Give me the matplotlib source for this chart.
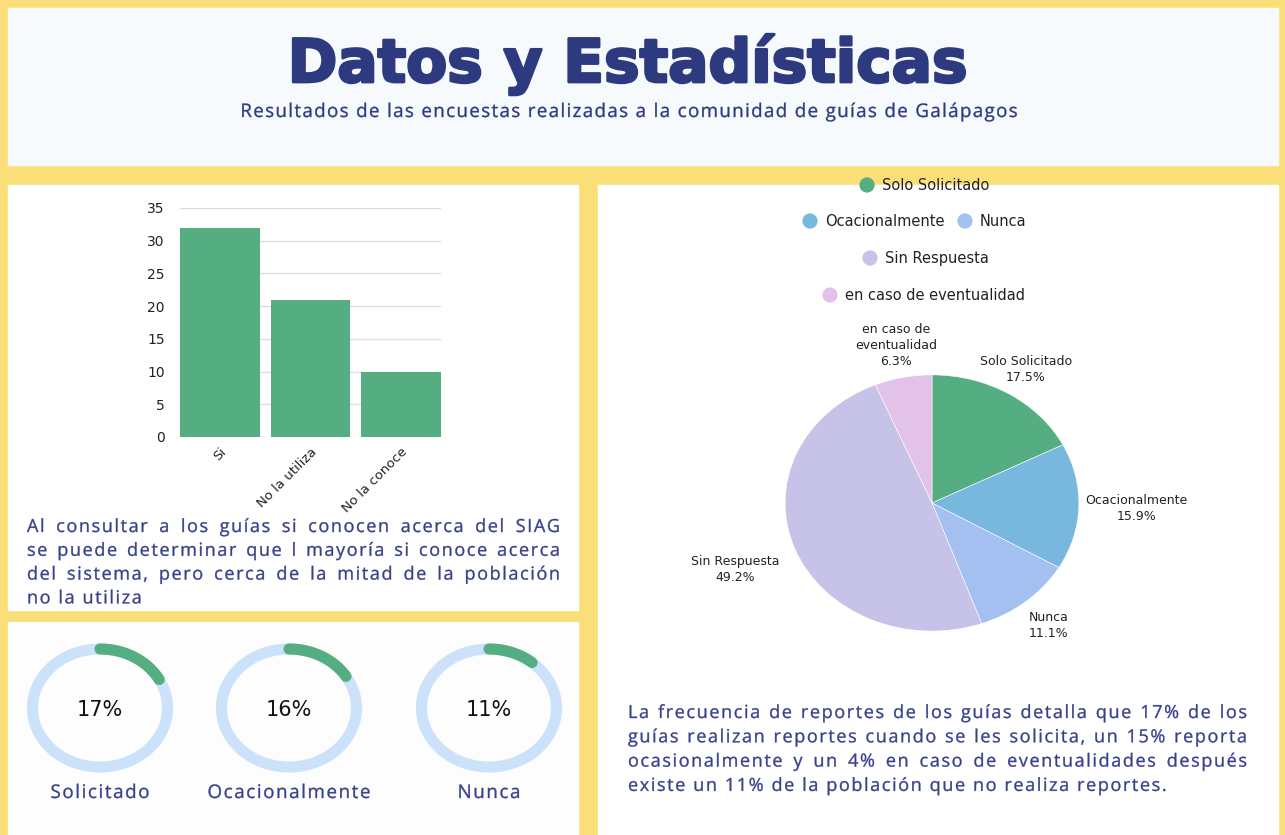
import numpy as np
import matplotlib
matplotlib.use("Agg")
import matplotlib.pyplot as plt
import matplotlib.patheffects as pe
from matplotlib.patches import Rectangle, PathPatch
from matplotlib.textpath import TextPath
from matplotlib.font_manager import FontProperties
from matplotlib.path import Path
from matplotlib.transforms import Affine2D

# ---- data ----
bar_labels = ["Si", "No la utiliza", "No la conoce"]
bar_values = [32, 21, 10]

pie_labels = ["Solo Solicitado", "Ocacionalmente", "Nunca", "Sin Respuesta", "en caso de\neventualidad"]
legend_labels = ["Solo Solicitado", "Ocacionalmente", "Nunca", "Sin Respuesta", "en caso de eventualidad"]
pie_values = [17.5, 15.9, 11.1, 49.2, 6.3]
pie_colors = ["#55AE82", "#78B8DE", "#A4C0F0", "#C7C2E8", "#E2C2E8"]

ring_labels = ["Solicitado", "Ocacionalmente", "Nunca"]
ring_values = [17, 16, 11]

title = "Datos y Estadísticas"
subtitle = "Resultados de las encuestas realizadas a la comunidad de guías de Galápagos"
text_left = [
    "Al consultar a los guías si conocen acerca del SIAG",
    "se puede determinar que l mayoría si conoce acerca",
    "del sistema, pero cerca de la mitad de la población",
    "no la utiliza",
]
text_right = [
    "La frecuencia de reportes de los guías detalla que 17% de los",
    "guías realizan reportes cuando se les solicita, un 15% reporta",
    "ocasionalmente y un 4% en caso de eventualidades después",
    "existe un 11% de la población que no realiza reportes.",
]

# ---- style ----
W, H = 1285, 835
YELLOW = "#FADF78"
NAVY = "#2E3A80"
TEXT_NAVY = "#36418A"
GREEN = "#55AE82"
TRACK = "#CCE2FB"
BODY = "Open Sans"
CHART = "DejaVu Sans"
FP = FontProperties(family=BODY)

fig = plt.figure(figsize=(W / 100, H / 100), dpi=100, facecolor=YELLOW)


def px_axes(x0, y0, x1, y1):
    ax = fig.add_axes([x0 / W, 1 - y1 / H, (x1 - x0) / W, (y1 - y0) / H])
    ax.set_facecolor("none")
    return ax


# background canvas in pixel units
bg = fig.add_axes([0, 0, 1, 1], zorder=-5)
bg.set_xlim(0, W)
bg.set_ylim(H, 0)
bg.axis("off")
bg.add_patch(Rectangle((8, 8), 1270, 157, color="#F6FAFC"))
bg.add_patch(Rectangle((8, 185), 570, 425, color="white"))
bg.add_patch(Rectangle((8, 622), 570, 213, color="#FDFDFE"))
bg.add_patch(Rectangle((598, 185), 680, 650, color="white"))

# letter-spaced text drawn as glyph paths (sub-pixel exact spacing)
_adv = {}


def advance(c, px):
    key = (c, px)
    if key not in _adv:
        a = TextPath((0, 0), "H" + c + "H", size=px, prop=FP).get_extents().width
        b = TextPath((0, 0), "HH", size=px, prop=FP).get_extents().width
        _adv[key] = a - b
    return _adv[key]


def word_w(word, px, track):
    return sum(advance(c, px) for c in word) + track * (len(word) - 1)


def word_paths(x, word, px, track):
    paths = []
    for c in word:
        if c != " ":
            paths.append(TextPath((x, 0), c, size=px, prop=FP))
        x += advance(c, px) + track
    return paths


def emit(paths, y, color):
    comp = Path.make_compound_path(*paths)
    comp = Affine2D().scale(1, -1).translate(0, y).transform_path(comp)
    bg.add_patch(PathPatch(comp, facecolor=color, edgecolor=color, linewidth=0.25))


def tracked(x, y, s, size, track, color, ha="left"):
    px = size * 100 / 72
    if ha == "center":
        x -= word_w(s, px, track) / 2
    emit(word_paths(x, s, px, track), y, color)


def justify(lines, x0, x1, y0, dy, size, track, color):
    px = size * 100 / 72
    for i, line in enumerate(lines):
        y = y0 + i * dy
        if i == len(lines) - 1:
            tracked(x0, y, line, size, track, color)
            continue
        words = line.split()
        widths = [word_w(w, px, track) for w in words]
        gap = (x1 - x0 - sum(widths)) / (len(words) - 1)
        x = x0
        paths = []
        for w, ww in zip(words, widths):
            paths += word_paths(x, w, px, track)
            x += ww + gap
        emit(paths, y, color)


bg.text(628, 82, title, ha="center", va="baseline", fontsize=43,
        fontweight="bold", family=CHART, color=NAVY,
        path_effects=[pe.withStroke(linewidth=2, foreground=NAVY)])
tracked(629, 117, subtitle, 13.5, 1.35, NAVY, ha="center")

justify(text_left, 27, 560, 532, 23.8, 13, 1.6, TEXT_NAVY)
justify(text_right, 628, 1247, 718, 24.3, 13, 1.6, TEXT_NAVY)

# ---- bar chart ----
ax = px_axes(180, 208, 441, 437)
x = np.arange(len(bar_values))
ax.bar(x, bar_values, width=0.88, color=GREEN, zorder=3)
ax.set_xlim(-0.44, len(bar_values) - 0.56)
ax.set_ylim(0, 35)
ax.set_yticks(np.arange(0, 36, 5))
ax.yaxis.grid(True, color="#DDDDDD", linewidth=1, zorder=0)
ax.set_xticks(x)
ax.set_xticklabels(bar_labels, rotation=45, ha="right", rotation_mode="anchor")
for spine in ax.spines.values():
    spine.set_visible(False)
ax.tick_params(axis="x", length=0, labelsize=9.5, colors="#222222", pad=6)
ax.tick_params(axis="y", length=0, labelsize=10, colors="#222222", pad=11)
for lbl in ax.get_xticklabels() + ax.get_yticklabels():
    lbl.set_family(CHART)

# ---- pie chart ----
pax = px_axes(697, 298, 1167, 708)
wedges, _ = pax.pie(pie_values, colors=pie_colors, startangle=90, counterclock=False,
                    wedgeprops=dict(edgecolor="white", linewidth=0.4))
pax.set_aspect("auto")
pax.set_xlim(-1.6, 1.6)
pax.set_ylim(-1.6, 1.6)
label_dist = [1.22, 1.39, 1.24, 1.44, 1.25]
for w, name, val, d in zip(wedges, pie_labels, pie_values, label_dist):
    ang = np.deg2rad((w.theta1 + w.theta2) / 2)
    pax.text(d * np.cos(ang), d * np.sin(ang), f"{name}\n{val}%", ha="center", va="center",
             fontsize=9, family=CHART, color="#222222", linespacing=1.3)

# legend (manual layout, centered rows)
legend_pos = [(867, 185), (810, 221), (965, 221), (870, 258), (830, 295)]
for (lx, ly), name, col in zip(legend_pos, legend_labels, pie_colors):
    bg.scatter([lx], [ly], s=120, color=col, edgecolors="none")
    bg.text(lx + 15, ly, name, ha="left", va="center", fontsize=10.5, family=CHART, color="#222222")

# ---- progress rings ----
ring_centers = [100, 289, 489]
t = np.linspace(0, 2 * np.pi, 300)
for cx, val, name in zip(ring_centers, ring_values, ring_labels):
    rax = px_axes(cx - 85, 708 - 75, cx + 85, 708 + 75)
    rax.set_xlim(-85, 85)
    rax.set_ylim(-75, 75)
    rax.axis("off")
    rx, ry = 67.5, 59
    rax.plot(rx * np.cos(t), ry * np.sin(t), color=TRACK, linewidth=8)
    tt = np.deg2rad(np.linspace(90, 90 - 360 * val / 100, 100))
    rax.plot(rx * np.cos(tt), ry * np.sin(tt), color=GREEN, linewidth=8, solid_capstyle="round")
    rax.text(0, -2, f"{val}%", ha="center", va="center", fontsize=15, family=CHART, color="#111111")
    tracked(cx, 798, name, 13.5, 1.6, TEXT_NAVY, ha="center")

fig.savefig("out.png", dpi=100, facecolor=YELLOW)
